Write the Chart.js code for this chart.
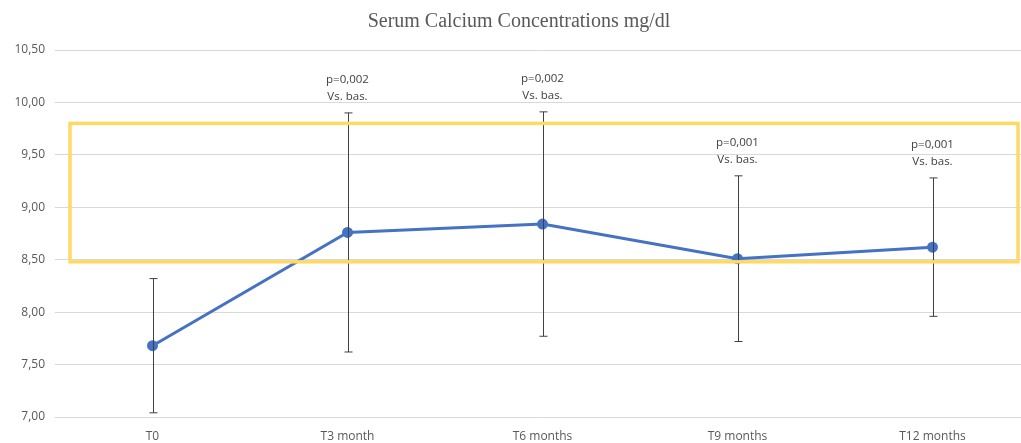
<!DOCTYPE html>
<html>
<head>
<meta charset="utf-8">
<script src="https://cdn.jsdelivr.net/npm/chart.js@4.4.1/dist/chart.umd.min.js"></script>
<style>
  html, body { margin: 0; padding: 0; background: #fff; overflow: hidden; }
  #wrap { width: 1021px; height: 443px; overflow: hidden; }
</style>
</head>
<body>
<div id="wrap"><canvas id="calcium-chart" width="1050" height="443"></canvas></div>
<script>
// Dati del grafico
const categories = ['T0', 'T3 month', 'T6 months', 'T9 months', 'T12 months'];
const calciumMean = [7.68, 8.76, 8.84, 8.51, 8.62];
const errHigh = [8.32, 9.90, 9.91, 9.30, 9.28];
const errLow = [7.04, 7.62, 7.77, 7.72, 7.96];
const pLabels = ['', 'p=0,002', 'p=0,002', 'p=0,001', 'p=0,001'];
const vsLabels = ['', 'Vs. bas.', 'Vs. bas.', 'Vs. bas.', 'Vs. bas.'];
const yTicks = [7.0, 7.5, 8.0, 8.5, 9.0, 9.5, 10.0, 10.5];
// yellow box range (value axis)
const boxRange = [8.48, 9.80];

// error bars + p-values
const errorBarsPlugin = {
  id: 'errorBars',
  afterDatasetsDraw(chart) {
    const ctx = chart.ctx;
    const x = chart.scales.x;
    const y = chart.scales.y;
    ctx.save();
    ctx.strokeStyle = '#404040';
    ctx.lineWidth = 1;
    categories.forEach((c, i) => {
      const px = Math.round(x.getPixelForValue(i)) + 0.5;
      const top = y.getPixelForValue(errHigh[i]);
      const bot = y.getPixelForValue(errLow[i]);
      ctx.beginPath();
      ctx.moveTo(px, top); ctx.lineTo(px, bot);
      ctx.moveTo(px - 4, top); ctx.lineTo(px + 4, top);
      ctx.moveTo(px - 4, bot); ctx.lineTo(px + 4, bot);
      ctx.stroke();
    });
    ctx.fillStyle = '#404040';
    ctx.font = '11.5px "Open Sans", sans-serif';
    ctx.textAlign = 'center';
    ctx.textBaseline = 'middle';
    categories.forEach((c, i) => {
      if (!pLabels[i]) return;
      const px = x.getPixelForValue(i);
      const top = y.getPixelForValue(errHigh[i]);
      ctx.fillText(pLabels[i], px, top - 33);
      ctx.fillText(vsLabels[i], px, top - 16);
    });
    ctx.restore();
  }
};

// yellow box
const boxPlugin = {
  id: 'yellowBox',
  afterDraw(chart) {
    const ctx = chart.ctx;
    const a = chart.chartArea;
    const y = chart.scales.y;
    const t = y.getPixelForValue(boxRange[1]);
    const b = y.getPixelForValue(boxRange[0]);
    ctx.save();
    ctx.strokeStyle = '#FFD966';
    ctx.lineWidth = 3.5;
    ctx.strokeRect(a.left + 15, t, a.right - a.left - 27, b - t);
    ctx.restore();
  }
};

new Chart(document.getElementById('calcium-chart'), {
  type: 'line',
  data: {
    labels: categories,
    datasets: [{
      label: 'Calcium',
      data: calciumMean,
      borderColor: '#4472C4',
      backgroundColor: '#4472C4',
      borderWidth: 3,
      pointRadius: 4,
      pointHoverRadius: 4,
      tension: 0
    }]
  },
  options: {
    responsive: false,
    animation: false,
    layout: { padding: { left: 8, right: 20, top: 0, bottom: 0 } },
    plugins: {
      legend: { display: false },
      tooltip: { enabled: false },
      title: {
        display: true,
        text: 'Serum Calcium Concentrations mg/dl',
        color: '#595959',
        font: { family: '"Liberation Serif", serif', size: 20, weight: 'normal' },
        padding: { top: 10, bottom: 16 }
      }
    },
    scales: {
      x: {
        offset: true,
        grid: { display: false },
        border: { display: false },
        afterFit: s => { s.height = 26; },
        ticks: { color: '#595959', font: { family: '"Open Sans", sans-serif', size: 12 }, padding: 4 }
      },
      y: {
        min: 7,
        max: 10.5,
        afterBuildTicks: s => { s.ticks = yTicks.map(v => ({ value: v })); },
        afterFit: s => { s.width = 47; },
        grid: { color: '#d9d9d9', lineWidth: 1, drawTicks: false },
        border: { display: false },
        ticks: {
          color: '#595959',
          padding: 10,
          font: { family: '"Open Sans", sans-serif', size: 12 },
          callback: v => v.toFixed(2).replace('.', ',')
        }
      }
    }
  },
  plugins: [errorBarsPlugin, boxPlugin]
});
</script>
</body>
</html>
